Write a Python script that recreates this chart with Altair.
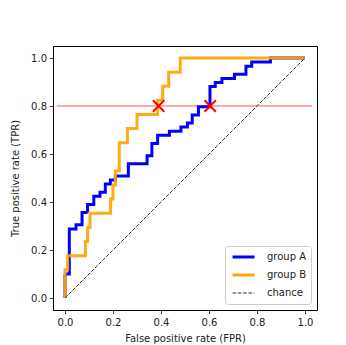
import altair as alt
import pandas as pd

# ---- data ----
series_names = ["group A", "group B", "chance"]
series_colors = ["#0000ff", "#ffa500", "#333333"]

fpr_a = [0.0, 0.0, 0.018, 0.018, 0.046, 0.046, 0.071, 0.071, 0.094, 0.094,
         0.12, 0.12, 0.146, 0.146, 0.168, 0.168, 0.189, 0.189, 0.21, 0.21,
         0.264, 0.264, 0.342, 0.342, 0.362, 0.362, 0.386, 0.386, 0.435, 0.435,
         0.483, 0.483, 0.51, 0.51, 0.53, 0.53, 0.556, 0.556, 0.604, 0.604,
         0.626, 0.626, 0.654, 0.654, 0.706, 0.706, 0.754, 0.754, 0.778, 0.778,
         0.856, 0.856, 1.0]
tpr_a = [0.0, 0.10, 0.10, 0.288, 0.288, 0.305, 0.305, 0.356, 0.356, 0.39,
         0.39, 0.424, 0.424, 0.441, 0.441, 0.475, 0.475, 0.492, 0.492, 0.508,
         0.508, 0.559, 0.559, 0.593, 0.593, 0.644, 0.644, 0.678, 0.678, 0.695,
         0.695, 0.712, 0.712, 0.729, 0.729, 0.763, 0.763, 0.797, 0.797, 0.881,
         0.881, 0.898, 0.898, 0.915, 0.915, 0.932, 0.932, 0.966, 0.966, 0.983,
         0.983, 1.0, 1.0]

fpr_b = [0.0, 0.0, 0.011, 0.011, 0.085, 0.085, 0.094, 0.094, 0.104, 0.104,
         0.19, 0.19, 0.2, 0.2, 0.21, 0.21, 0.226, 0.226, 0.26, 0.26,
         0.3, 0.3, 0.386, 0.386, 0.407, 0.407, 0.432, 0.432, 0.48, 0.48, 1.0]
tpr_b = [0.0, 0.118, 0.118, 0.176, 0.176, 0.235, 0.235, 0.294, 0.294, 0.353,
         0.353, 0.412, 0.412, 0.471, 0.471, 0.529, 0.529, 0.647, 0.647, 0.706,
         0.706, 0.765, 0.765, 0.824, 0.824, 0.882, 0.882, 0.941, 0.941, 1.0, 1.0]

chance_fpr = [0.0, 1.0]
chance_tpr = [0.0, 1.0]

target_tpr = 0.8
target_line_fpr = [-0.035, 1.03]
marker_fpr = [0.39, 0.605]
marker_tpr = [0.8, 0.8]

tick_values = [0.0, 0.2, 0.4, 0.6, 0.8, 1.0]

# ---- tables ----
rows = []
for name, xs, ys in [("group A", fpr_a, tpr_a), ("group B", fpr_b, tpr_b),
                     ("chance", chance_fpr, chance_tpr)]:
    for i, (x, y) in enumerate(zip(xs, ys)):
        rows.append({"series": name, "fpr": x, "tpr": y, "order": i})
df = pd.DataFrame(rows)

df_target = pd.DataFrame({"x": [target_line_fpr[0]], "x2": [target_line_fpr[1]],
                          "y": [target_tpr]})
df_marks = pd.DataFrame({"fpr": marker_fpr, "tpr": marker_tpr})

FONT = "DejaVu Sans"
xscale = alt.Scale(domain=[-0.05, 1.05], nice=False, zero=False)
yscale = alt.Scale(domain=[-0.05, 1.05], nice=False, zero=False)

xaxis = alt.Axis(title="False positive rate (FPR)", values=tick_values, format=".1f",
                 grid=False, tickSize=3.5, labelPadding=3.5, titlePadding=6)
yaxis = alt.Axis(title="True positive rate (TPR)", values=tick_values, format=".1f",
                 grid=False, tickSize=3.5, labelPadding=3, titlePadding=10)

legend = alt.Legend(title=None, orient="bottom-right", offset=6,
                    symbolType="stroke", symbolSize=484, clipHeight=14,
                    symbolOffset=2,
                    strokeColor="#cccccc", cornerRadius=3, fillColor="white",
                    padding=4, rowPadding=4, labelOffset=11,
                    labelFontSize=10, labelFont=FONT,
                    labelColor="#222222", labelFontWeight="normal")

enc = dict(
    x=alt.X("fpr:Q", scale=xscale, axis=xaxis),
    y=alt.Y("tpr:Q", scale=yscale, axis=yaxis),
    order=alt.Order("order:Q"),
    color=alt.Color("series:N", scale=alt.Scale(domain=series_names, range=series_colors),
                    legend=legend),
    strokeDash=alt.StrokeDash("series:N",
                              scale=alt.Scale(domain=series_names,
                                              range=[[1, 0], [1, 0], [3.7, 1.6]]),
                              legend=legend),
    strokeWidth=alt.StrokeWidth("series:N",
                                scale=alt.Scale(type="ordinal", domain=series_names,
                                                range=[3, 3, 1]),
                                legend=legend),
)

def series_layer(name, opacity=1.0):
    return alt.Chart(df).transform_filter(
        alt.datum.series == name
    ).mark_line(clip=True, opacity=opacity).encode(**enc)

target = alt.Chart(df_target).mark_rule(color="#ff0000", opacity=0.45, strokeWidth=1.5).encode(
    x=alt.X("x:Q", scale=xscale),
    x2="x2:Q",
    y=alt.Y("y:Q", scale=yscale),
)

markers = alt.Chart(df_marks).mark_point(
    shape="M-1,-1L1,1M1,-1L-1,1", size=130, filled=False, color="#ff0000",
    strokeWidth=2, opacity=1
).encode(
    x=alt.X("fpr:Q", scale=xscale),
    y=alt.Y("tpr:Q", scale=yscale),
)

chart = alt.layer(
    target,
    series_layer("group A"),
    series_layer("group B", 0.92),
    series_layer("chance"),
    markers,
).properties(
    width=264, height=264,
    autosize=alt.AutoSizeParams(type="none"),
    padding={"left": 45, "top": 38, "right": 20, "bottom": 40},
    background="white",
).configure_view(
    stroke="#000000", strokeWidth=1,
).configure_axis(
    labelFont=FONT, titleFont=FONT, labelFontSize=10, titleFontSize=10,
    labelColor="#222222", titleColor="#222222", titleFontWeight="normal",
    domain=False, tickColor="#000000", tickWidth=0.8,
)

chart.save("out.html", embed_options={"renderer": "svg", "actions": False})
